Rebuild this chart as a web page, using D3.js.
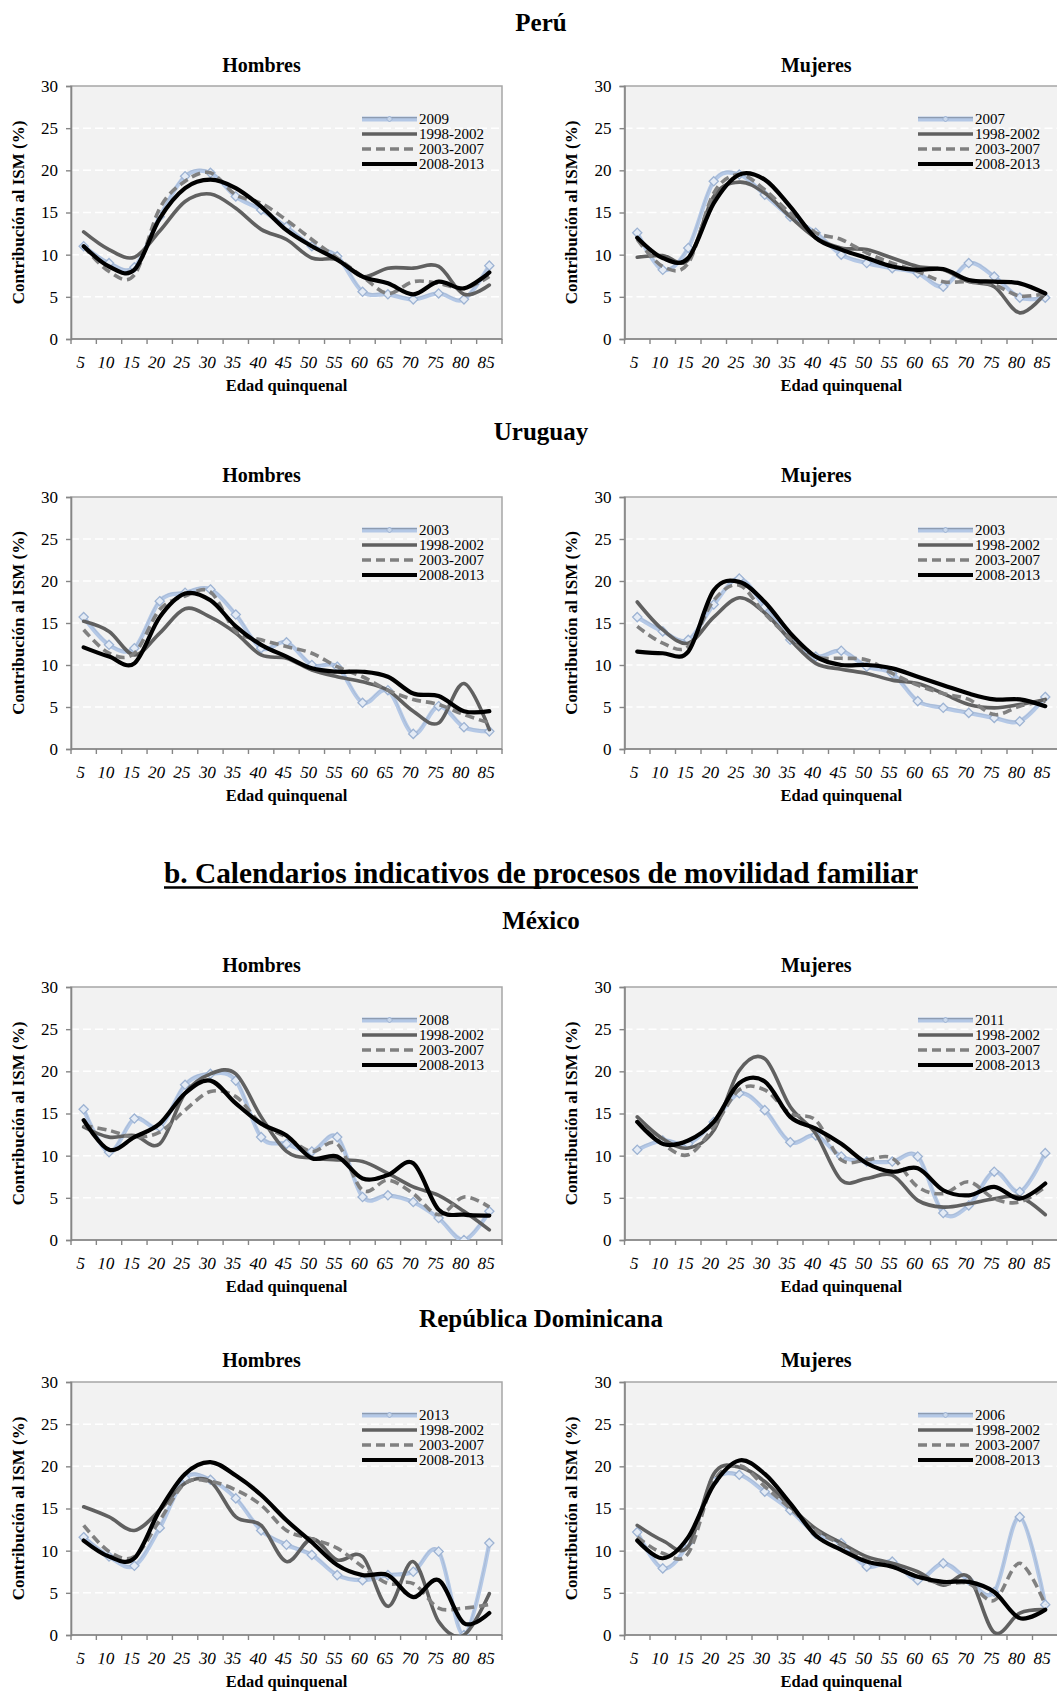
<!DOCTYPE html>
<html>
<head>
<meta charset="utf-8">
<script src="https://cdnjs.cloudflare.com/ajax/libs/d3/7.8.5/d3.min.js"></script>
<style>
  html, body { margin: 0; padding: 0; background: #fff; }
  svg { display: block; }
  text { font-family: "Liberation Serif", "Times New Roman", serif; }
</style>
</head>
<body>
<svg id="chart" width="1057" height="1691"></svg>
<script>
// ---------------- DATA ----------------
const ages = ["5","10","15","20","25","30","35","40","45","50","55","60","65","70","75","80","85"];
const yTicks = [0, 5, 10, 15, 20, 25, 30];
const countries = ["Perú", "Uruguay", "México", "República Dominicana"];
const sexes = ["Hombres", "Mujeres"];
const periodLabels = ["1998-2002", "2003-2007", "2008-2013"];
const sectionTitle = "b. Calendarios indicativos de procesos de movilidad familiar";
const yTitle = "Contribución al ISM (%)";
const xTitle = "Edad quinquenal";
const yearLabels = ["2009", "2007", "2003", "2003", "2008", "2011", "2013", "2006"];

// Perú – Hombres
const peruH_year = [11.0, 9.0, 8.5, 14.5, 19.3, 19.7, 16.9, 15.3, 13.3, 11.0, 9.8, 5.6, 5.3, 4.7, 5.4, 4.7, 8.7];
const peruH_p1   = [12.7, 10.6, 9.7, 12.8, 16.3, 17.2, 15.5, 13.0, 11.8, 9.6, 9.4, 7.4, 8.4, 8.4, 8.6, 5.3, 6.4];
const peruH_p2   = [11.0, 8.0, 7.6, 15.5, 18.7, 19.7, 17.1, 16.1, 14.1, 11.8, 9.6, 7.4, 5.4, 6.8, 6.6, 6.0, 7.4];
const peruH_p3   = [11.0, 8.6, 8.2, 14.3, 17.9, 18.9, 17.9, 15.7, 12.9, 11.0, 9.4, 7.4, 6.6, 5.3, 6.8, 6.0, 7.9];
// Perú – Mujeres
const peruM_year = [12.6, 8.2, 10.8, 18.7, 19.5, 17.1, 14.5, 12.6, 10.0, 9.0, 8.4, 7.8, 6.2, 9.0, 7.4, 4.9, 4.9];
const peruM_p1   = [9.7, 9.9, 9.4, 16.9, 18.6, 17.3, 14.5, 12.0, 10.8, 10.6, 9.6, 8.6, 8.2, 6.8, 6.2, 3.1, 5.4];
const peruM_p2   = [11.8, 8.6, 9.0, 17.3, 19.5, 17.7, 14.9, 12.6, 11.8, 10.2, 9.0, 8.0, 6.8, 6.8, 6.4, 5.1, 5.4];
const peruM_p3   = [12.0, 9.6, 9.6, 16.1, 19.5, 18.9, 15.7, 12.0, 10.6, 9.6, 8.6, 8.2, 8.3, 7.0, 6.8, 6.6, 5.4];
// Uruguay – Hombres
const uruH_year = [15.7, 12.4, 12.0, 17.6, 18.6, 19.0, 16.0, 12.0, 12.7, 10.0, 9.8, 5.5, 7.0, 1.8, 5.1, 2.6, 2.1];
const uruH_p1   = [15.2, 14.0, 11.2, 13.8, 16.7, 15.7, 13.8, 11.2, 10.8, 9.4, 8.6, 8.0, 7.0, 4.5, 3.1, 7.8, 2.3];
const uruH_p2   = [14.2, 11.4, 11.4, 16.6, 18.2, 18.7, 14.0, 13.0, 12.2, 11.4, 9.8, 8.6, 7.0, 5.9, 5.3, 4.1, 3.1];
const uruH_p3   = [12.1, 11.0, 10.2, 15.7, 18.5, 17.7, 14.6, 12.4, 11.0, 9.6, 9.2, 9.2, 8.6, 6.6, 6.3, 4.5, 4.5];
// Uruguay – Mujeres
const uruM_year = [15.7, 14.0, 13.0, 17.2, 20.3, 16.9, 13.0, 11.0, 11.7, 9.8, 9.0, 5.7, 4.9, 4.3, 3.7, 3.3, 6.2];
const uruM_p1   = [17.5, 14.2, 12.6, 15.7, 18.0, 16.2, 13.0, 10.2, 9.5, 9.0, 8.2, 7.8, 6.6, 5.3, 4.9, 5.3, 5.9];
const uruM_p2   = [14.6, 12.6, 12.2, 17.7, 19.5, 16.1, 13.2, 11.0, 10.8, 10.6, 9.0, 7.6, 6.6, 5.9, 4.1, 5.1, 5.7];
const uruM_p3   = [11.6, 11.4, 11.6, 18.9, 19.9, 17.5, 13.8, 11.0, 10.0, 10.0, 9.6, 8.6, 7.6, 6.6, 5.9, 5.9, 5.1];
// México – Hombres
const mexH_year = [15.5, 10.4, 14.4, 13.4, 18.4, 19.7, 18.9, 12.2, 11.4, 10.5, 12.2, 5.1, 5.3, 4.5, 2.6, 0.0, 3.4];
const mexH_p1   = [13.4, 12.2, 12.4, 11.4, 17.4, 19.7, 19.7, 14.6, 10.5, 9.7, 9.5, 9.3, 7.9, 6.3, 5.3, 3.4, 1.2];
const mexH_p2   = [13.6, 13.0, 12.2, 12.8, 15.4, 17.6, 17.0, 13.8, 12.2, 10.5, 11.4, 5.9, 7.1, 5.5, 3.0, 5.1, 3.9];
const mexH_p3   = [14.2, 10.7, 12.2, 13.8, 17.4, 18.9, 16.2, 13.8, 12.4, 9.7, 9.9, 7.3, 7.7, 9.1, 3.6, 3.0, 2.9];
// México – Mujeres
const mexM_year = [10.7, 11.8, 11.4, 14.0, 17.4, 15.4, 11.6, 12.4, 9.9, 9.3, 9.3, 9.9, 3.2, 4.1, 8.1, 5.7, 10.3];
const mexM_p1   = [14.6, 12.0, 10.9, 13.0, 20.1, 21.5, 15.8, 12.6, 7.1, 7.3, 7.7, 4.7, 3.9, 4.3, 4.9, 5.1, 3.0];
const mexM_p2   = [14.2, 11.4, 10.1, 13.4, 17.8, 17.8, 15.0, 14.2, 9.5, 9.5, 9.7, 6.3, 5.5, 6.9, 4.9, 4.5, 6.3];
const mexM_p3   = [14.0, 11.4, 11.8, 14.0, 18.6, 18.8, 14.6, 13.2, 11.4, 9.1, 8.1, 8.5, 5.9, 5.3, 6.3, 4.9, 6.7];
// República Dominicana – Hombres
const rdH_year = [11.6, 9.3, 8.2, 12.7, 18.6, 18.4, 16.2, 12.4, 10.7, 9.5, 7.1, 6.5, 7.1, 7.5, 9.9, 0.0, 10.9];
const rdH_p1   = [15.2, 14.0, 12.4, 14.8, 18.0, 18.2, 14.0, 13.0, 8.7, 11.4, 8.9, 9.3, 3.4, 8.7, 1.6, 0.0, 4.9];
const rdH_p2   = [13.0, 9.9, 9.3, 13.6, 18.0, 18.2, 17.2, 15.4, 12.4, 11.4, 10.3, 8.1, 6.1, 6.1, 3.2, 3.2, 3.6];
const rdH_p3   = [11.2, 9.3, 9.1, 14.8, 19.1, 20.5, 18.9, 16.6, 13.6, 11.0, 8.3, 7.1, 7.1, 4.5, 6.5, 1.4, 2.6];
// República Dominicana – Mujeres
const rdM_year = [12.2, 7.9, 10.9, 18.2, 19.0, 17.0, 14.8, 12.0, 10.9, 8.1, 8.7, 6.5, 8.5, 6.5, 5.1, 14.0, 3.6];
const rdM_p1   = [13.0, 11.2, 10.5, 19.1, 19.9, 18.2, 15.2, 12.6, 10.9, 9.3, 8.5, 7.5, 5.9, 6.9, 0.3, 2.6, 3.0];
const rdM_p2   = [11.6, 9.7, 9.7, 18.2, 20.1, 17.6, 15.0, 12.4, 10.7, 8.9, 8.1, 6.9, 6.1, 6.1, 4.1, 8.5, 3.6];
const rdM_p3   = [11.2, 9.1, 11.6, 17.8, 20.7, 19.1, 15.6, 11.8, 10.1, 8.7, 8.1, 6.9, 6.3, 6.3, 5.1, 2.0, 3.0];

const panelData = [
  [peruH_year, peruH_p1, peruH_p2, peruH_p3], [peruM_year, peruM_p1, peruM_p2, peruM_p3],
  [uruH_year, uruH_p1, uruH_p2, uruH_p3],     [uruM_year, uruM_p1, uruM_p2, uruM_p3],
  [mexH_year, mexH_p1, mexH_p2, mexH_p3],     [mexM_year, mexM_p1, mexM_p2, mexM_p3],
  [rdH_year, rdH_p1, rdH_p2, rdH_p3],         [rdM_year, rdM_p1, rdM_p2, rdM_p3]
];

// ---------------- LAYOUT ----------------
const svg = d3.select("#chart");
const colX = [[71, 502], [624.5, 1058]];
const rowY = [
  { country: 22,  sub: 65,  top: 86,   bottom: 339 },
  { country: 431, sub: 475, top: 497,  bottom: 749 },
  { country: 920, sub: 965, top: 987,  bottom: 1240 },
  { country: 1318, sub: 1360, top: 1382, bottom: 1635 }
];
const titleCX = 541;

const styles = [
  { color: "#b4c8e6", width: 4.2, dash: null },
  { color: "#606060", width: 3.6, dash: null },
  { color: "#808080", width: 3.6, dash: "9,5" },
  { color: "#000000", width: 4.2, dash: null }
];

// Country titles
rowY.forEach((r, i) => {
  svg.append("text").attr("x", titleCX).attr("y", r.country).attr("dy", "0.35em")
    .attr("text-anchor", "middle").attr("font-weight", "bold").attr("font-size", 25)
    .text(countries[i]);
});

// Section title with underline
const sec = svg.append("text").attr("x", titleCX).attr("y", 883)
  .attr("text-anchor", "middle").attr("font-weight", "bold").attr("font-size", 26)
  .text(sectionTitle);
const secW = sec.node().getComputedTextLength();
sec.attr("font-size", 26 * 754 / secW);
svg.append("line").attr("x1", titleCX - 377).attr("x2", titleCX + 377)
  .attr("y1", 887.5).attr("y2", 887.5).attr("stroke", "#000").attr("stroke-width", 2.6);

const diamond = (s) => `M0,${-s}L${s},0L0,${s}L${-s},0Z`;

panelData.forEach((series, p) => {
  const row = Math.floor(p / 2), col = p % 2;
  const [x0, x1] = colX[col];
  const { sub, top, bottom } = rowY[row];
  const g = svg.append("g");

  const x = d3.scaleBand().domain(ages).range([x0, x1]).padding(0);
  const y = d3.scaleLinear().domain([0, 30]).range([bottom, top]);

  // Background
  g.append("rect").attr("x", x0).attr("y", top).attr("width", x1 - x0).attr("height", bottom - top)
    .attr("fill", "#f2f2f2");

  // Gridlines
  g.append("g").selectAll("line").data(yTicks.filter(t => t > 0 && t < 30)).join("line")
    .attr("x1", x0).attr("x2", x1).attr("y1", d => y(d)).attr("y2", d => y(d))
    .attr("stroke", "#ffffff").attr("stroke-width", 1.5).attr("stroke-dasharray", "8,4");

  // Frame
  g.append("rect").attr("x", x0).attr("y", top).attr("width", x1 - x0).attr("height", bottom - top)
    .attr("fill", "none").attr("stroke", "#a6a6a6").attr("stroke-width", 1.5);

  // Y axis
  const yAxis = d3.axisLeft(y).tickValues(yTicks).tickSize(5).tickPadding(8);
  const ya = g.append("g").attr("transform", `translate(${x0},0)`).call(yAxis);
  ya.select(".domain").attr("stroke", "#868686").attr("stroke-width", 1.6);
  ya.selectAll(".tick line").attr("stroke", "#868686").attr("stroke-width", 1.4);
  ya.selectAll(".tick text").attr("font-family", "Liberation Serif").attr("font-size", 17)
    .attr("fill", "#000");

  // X axis: ticks at category boundaries
  const xa = g.append("g").attr("transform", `translate(0,${bottom})`);
  xa.append("line").attr("x1", x0).attr("x2", x1).attr("stroke", "#868686").attr("stroke-width", 1.6);
  const bounds = ages.map(a => x(a)).concat([x1]);
  xa.selectAll("line.tk").data(bounds).join("line").attr("class", "tk")
    .attr("x1", d => d).attr("x2", d => d).attr("y1", 0).attr("y2", 5)
    .attr("stroke", "#868686").attr("stroke-width", 1.4);
  xa.selectAll("text").data(ages).join("text")
    .attr("x", d => x(d) + x.bandwidth() / 2 - 4).attr("y", 28)
    .attr("text-anchor", "middle").attr("font-size", 17).attr("rotate", "12")
    .text(d => d);

  // Titles
  g.append("text").attr("x", (x0 + x1) / 2 - 25).attr("y", sub).attr("dy", "0.35em")
    .attr("text-anchor", "middle").attr("font-weight", "bold").attr("font-size", 20).text(sexes[col]);
  g.append("text").attr("x", (x0 + x1) / 2).attr("y", bottom + 52)
    .attr("text-anchor", "middle").attr("font-weight", "bold").attr("font-size", 16.5).text(xTitle);
  g.append("text").attr("transform", `translate(${x0 - 53},${(top + bottom) / 2}) rotate(-90)`)
    .attr("dy", "0.35em").attr("text-anchor", "middle").attr("font-weight", "bold")
    .attr("font-size", 17).text(yTitle);

  // Clip
  const clipId = "clip" + p;
  g.append("clipPath").attr("id", clipId).append("rect")
    .attr("x", x0).attr("y", top).attr("width", x1 - x0).attr("height", bottom - top);

  const line = d3.line()
    .x((d, i) => x(ages[i]) + x.bandwidth() / 2)
    .y(d => y(d))
    .curve(d3.curveCardinal.tension(0));

  const lines = g.append("g").attr("clip-path", `url(#${clipId})`);
  series.forEach((vals, s) => {
    const st = styles[s];
    if (s === 0) {
      lines.append("path").datum(vals).attr("d", line).attr("fill", "none")
        .attr("stroke", st.color).attr("stroke-width", st.width).attr("stroke-linejoin", "round");
      lines.append("path").datum(vals).attr("d", line).attr("fill", "none")
        .attr("transform", "translate(0,-1.3)")
        .attr("stroke", "#9fb0c8").attr("stroke-width", 0.8).attr("opacity", 0.7);
    } else {
      lines.append("path").datum(vals).attr("d", line).attr("fill", "none")
        .attr("stroke", st.color).attr("stroke-width", st.width)
        .attr("stroke-dasharray", st.dash).attr("stroke-linecap", st.dash ? "butt" : "round")
        .attr("stroke-linejoin", "round");
    }
    if (s === 0) {
      // markers drawn right after the single-year line
      lines.append("g").selectAll("path").data(vals).join("path")
        .attr("transform", (d, i) => `translate(${x(ages[i]) + x.bandwidth() / 2},${y(d)})`)
        .attr("d", diamond(4.6)).attr("fill", "#e4ebf5").attr("stroke", "#9db3d3").attr("stroke-width", 1.3);
    }
  });

  // Legend
  const lg = g.append("g");
  const labels = [yearLabels[p]].concat(periodLabels);
  labels.forEach((lab, i) => {
    const ly = top + 33 + i * 15;
    const lx0 = x1 - 140, lx1 = x1 - 85;
    const st = styles[i];
    lg.append("line").attr("x1", lx0).attr("x2", lx1).attr("y1", ly).attr("y2", ly)
      .attr("stroke", st.color).attr("stroke-width", i === 0 ? 5 : st.width)
      .attr("stroke-dasharray", st.dash);
    if (i === 0) {
      lg.append("line").attr("x1", lx0).attr("x2", lx1).attr("y1", ly - 1.3).attr("y2", ly - 1.3)
        .attr("stroke", "#8d9bb0").attr("stroke-width", 1.2);
      lg.append("path").attr("transform", `translate(${(lx0 + lx1) / 2},${ly})`)
        .attr("d", diamond(3)).attr("fill", "#c9d7ea").attr("stroke", "#9db3d3").attr("stroke-width", 1);
    }
    lg.append("text").attr("x", lx1 + 2).attr("y", ly).attr("dy", "0.33em")
      .attr("font-size", 15).text(lab);
  });
});
</script>
</body>
</html>
